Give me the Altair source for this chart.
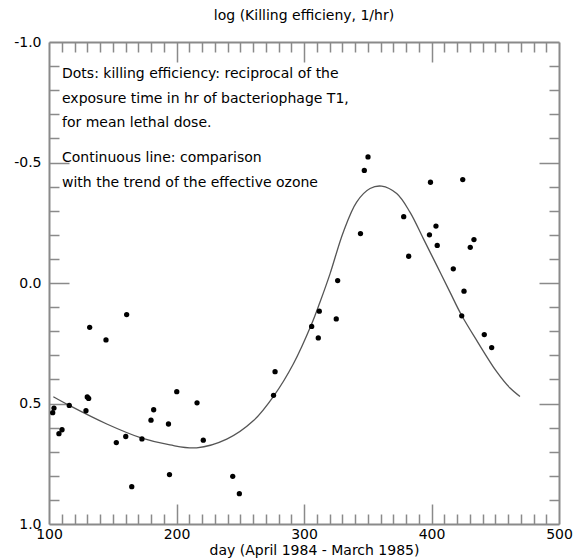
import altair as alt
import pandas as pd

# ---- data ----
dot_day = [102.9, 103.9, 107.8, 110.2, 115.9, 129.0, 130.0, 131.1, 131.9, 144.7,
           152.8, 160.2, 160.9, 164.9, 172.9, 180.0, 182.1, 193.7, 194.5, 200.2,
           216.1, 221.0, 244.1, 249.3, 276.1, 277.3, 306.0, 311.2, 312.0, 325.3,
           326.4, 344.3, 347.3, 350.2, 378.2, 382.1, 399.2, 398.4, 403.5, 404.5,
           417.1, 424.5, 423.7, 425.5, 430.4, 433.3, 441.4, 447.2]
dot_val = [0.538, 0.519, 0.625, 0.609, 0.508, 0.530, 0.473, 0.479, 0.184, 0.236,
           0.662, 0.637, 0.131, 0.845, 0.647, 0.569, 0.526, 0.585, 0.795, 0.451,
           0.497, 0.652, 0.802, 0.874, 0.466, 0.368, 0.180, 0.228, 0.117, 0.149,
           -0.010, -0.205, -0.467, -0.523, -0.275, -0.111, -0.418, -0.200, -0.236, -0.156,
           -0.059, -0.429, 0.136, 0.034, -0.148, -0.180, 0.214, 0.268]

line_day = [103.4, 115.9, 145.3, 172.9, 194.9, 215.8, 239.4, 260.2, 276.5, 291.6,
            306.0, 312.5, 320.4, 330.8, 341.3, 351.8, 360.9, 372.7, 383.1, 393.6,
            404.1, 414.5, 423.7, 436.0, 451.1, 461.6, 469.4]
line_val = [0.472, 0.508, 0.585, 0.644, 0.672, 0.684, 0.648, 0.572, 0.467, 0.336,
            0.170, 0.080, -0.038, -0.211, -0.336, -0.392, -0.402, -0.371, -0.294, -0.184,
            -0.073, 0.038, 0.135, 0.243, 0.368, 0.436, 0.471]

x_label_values = [100, 200, 300, 400, 500]
y_label_values = [-1.0, -0.5, 0.0, 0.5, 1.0]
x_major_ticks = [200, 300, 400]
x_minor_ticks = [110, 120, 130, 140, 150, 160, 170, 180, 190,
                 210, 220, 230, 240, 250, 260, 270, 280, 290,
                 310, 320, 330, 340, 350, 360, 370, 380, 390,
                 410, 420, 430, 440, 450, 460, 470, 480, 490]
y_major_ticks = [-0.5, 0.0, 0.5]
y_minor_ticks = [-0.9, -0.8, -0.7, -0.6, -0.4, -0.3, -0.2, -0.1,
                 0.1, 0.2, 0.3, 0.4, 0.6, 0.7, 0.8, 0.9]

title_text = "log (Killing efficieny, 1/hr)"
x_title = "day (April 1984 - March 1985)"
note_dots = ["Dots: killing efficiency: reciprocal of the",
             "exposure time in hr of bacteriophage T1,",
             "for mean lethal dose."]
note_line = ["Continuous line: comparison",
             "with the trend of the effective ozone"]

# ---- chart ----
W, H = 510, 482
FONT = "DejaVu Sans"
GRAY = "#8a8a8a"

dots = pd.DataFrame({"day": dot_day, "val": dot_val})
curve = pd.DataFrame({"day": line_day, "val": line_val})

xs = alt.Scale(domain=[100, 500], nice=False, zero=False)
ys = alt.Scale(domain=[-1, 1], nice=False, zero=False, reverse=True)


def tick_axis(orient, offset, values, size, domain=False):
    return alt.Axis(orient=orient, offset=offset, values=values, tickSize=size,
                    labels=False, domain=domain, domainColor=GRAY, domainWidth=2,
                    grid=False, title=None, tickColor=GRAY, tickWidth=1.5)


label_x_axis = alt.Axis(orient="bottom", values=x_label_values, ticks=False, tickSize=0,
                        domain=False, grid=False, labelFlush=False, labelPadding=3,
                        labelFontSize=14, labelColor="black", labelFont=FONT,
                        format="d", title=x_title, titleFontSize=14,
                        titleFontWeight="normal", titleColor="black", titleFont=FONT,
                        titleX=265, titleY=26, titleBaseline="middle", titleAlign="center")

label_y_axis = alt.Axis(orient="left", values=y_label_values, ticks=False, tickSize=0,
                        domain=False, grid=False, labelFlush=False, labelPadding=8,
                        labelFontSize=14, labelColor="black", labelFont=FONT,
                        labelExpr="datum.value < 0 ? '-' + format(abs(datum.value), '.1f') : format(datum.value, '.1f')",
                        title=None)

pts = alt.Chart(dots).mark_circle(size=28, color="black", opacity=1).encode(
    x=alt.X("day:Q", scale=xs, axis=label_x_axis),
    y=alt.Y("val:Q", scale=ys, axis=label_y_axis),
)

crv = alt.Chart(curve).mark_line(color="#555555", strokeWidth=1.3, interpolate="catmull-rom").encode(
    x=alt.X("day:Q", scale=xs, axis=tick_axis("top", -H, x_minor_ticks, 10, True)),
    y=alt.Y("val:Q", scale=ys, axis=tick_axis("right", -W, y_minor_ticks, 10, True)),
)

g3 = alt.Chart(curve).mark_point(opacity=0).encode(
    x=alt.X("day:Q", scale=xs, axis=tick_axis("top", -H, x_major_ticks, 20)),
    y=alt.Y("val:Q", scale=ys, axis=tick_axis("right", -W, y_major_ticks, 20)),
)

g4 = alt.Chart(curve).mark_point(opacity=0).encode(
    x=alt.X("day:Q", scale=xs, axis=tick_axis("bottom", -H, x_minor_ticks, 10, True)),
    y=alt.Y("val:Q", scale=ys, axis=tick_axis("left", -W, y_minor_ticks, 10, True)),
)

g5 = alt.Chart(curve).mark_point(opacity=0).encode(
    x=alt.X("day:Q", scale=xs, axis=tick_axis("bottom", -H, x_major_ticks, 20)),
    y=alt.Y("val:Q", scale=ys, axis=tick_axis("left", -W, y_major_ticks, 20)),
)

one = pd.DataFrame({"n": [0]})
txt1 = alt.Chart(one).mark_text(text=note_dots, align="left", baseline="alphabetic",
                                fontSize=14, lineHeight=24.5, color="black", font=FONT).encode(
    x=alt.value(13), y=alt.value(36))
txt2 = alt.Chart(one).mark_text(text=note_line, align="left", baseline="alphabetic",
                                fontSize=14, lineHeight=24.5, color="black", font=FONT).encode(
    x=alt.value(13), y=alt.value(120))

chart = alt.layer(crv, g3, g4, g5, pts, txt1, txt2).resolve_axis(
    x="independent", y="independent"
).properties(
    width=W, height=H,
    autosize=alt.AutoSizeParams(type="none"),
    padding={"left": 49, "top": 42, "right": 15, "bottom": 36},
    title=alt.TitleParams(title_text, fontSize=14, fontWeight="normal", anchor="middle",
                          offset=12, color="black", font=FONT),
).configure_view(
    stroke=GRAY, strokeWidth=2
).configure(font=FONT, background="white")

chart.save("out.html", embed_options={"renderer": "svg", "actions": False})
